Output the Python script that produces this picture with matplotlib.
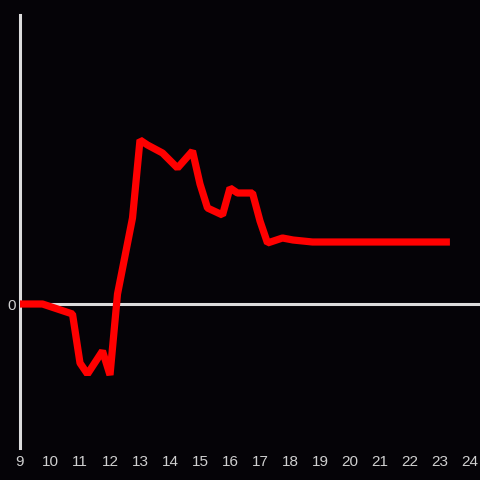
import matplotlib
matplotlib.use("Agg")
import matplotlib.pyplot as plt

# hour of day and value (arbitrary units, 0 = baseline)
hours = [9.0, 9.75, 10.75, 11.0, 11.25, 11.75, 12.0, 12.25, 12.75, 13.0,
         13.25, 13.75, 14.25, 14.75, 15.0, 15.25, 15.75, 16.0, 16.25, 16.75,
         17.0, 17.25, 17.75, 18.1, 18.75, 23.33]
values = [0, 0, -10, -59, -70, -47, -71, 10, 86, 164,
          159, 151, 136, 153, 120, 96, 89, 116, 111, 111,
          83, 61, 66, 64, 62, 62]
x_ticks = list(range(9, 25))

bg = "#050307"
axis_col = "#dcdcdc"

plt.rcParams["font.family"] = ["Liberation Sans", "DejaVu Sans"]

fig = plt.figure(figsize=(4.8, 4.8), dpi=100, facecolor=bg)
ax = fig.add_axes([20 / 480, 32 / 480, 460 / 480, 433 / 480])
ax.set_facecolor(bg)

ax.axhline(0, color=axis_col, lw=2.2, zorder=1)
ax.plot(hours, values, color="#ff0000", lw=5.2, solid_joinstyle="bevel",
        solid_capstyle="butt", zorder=3)

ax.set_xlim(9, 24.333)
ax.set_ylim(-144, 289)

for side in ["top", "right", "bottom"]:
    ax.spines[side].set_visible(False)
ax.spines["left"].set_color(axis_col)
ax.spines["left"].set_linewidth(2.2)
ax.spines["left"].set_zorder(2)

ax.set_xticks(x_ticks)
ax.set_xticklabels([str(h) for h in x_ticks])
ax.set_yticks([0])
ax.set_yticklabels(["0"])
ax.tick_params(axis="both", length=0, colors="#cfcfcf", labelsize=11)
ax.tick_params(axis="x", pad=5)
ax.tick_params(axis="y", pad=3)

fig.savefig("out.png", dpi=100, facecolor=bg)
